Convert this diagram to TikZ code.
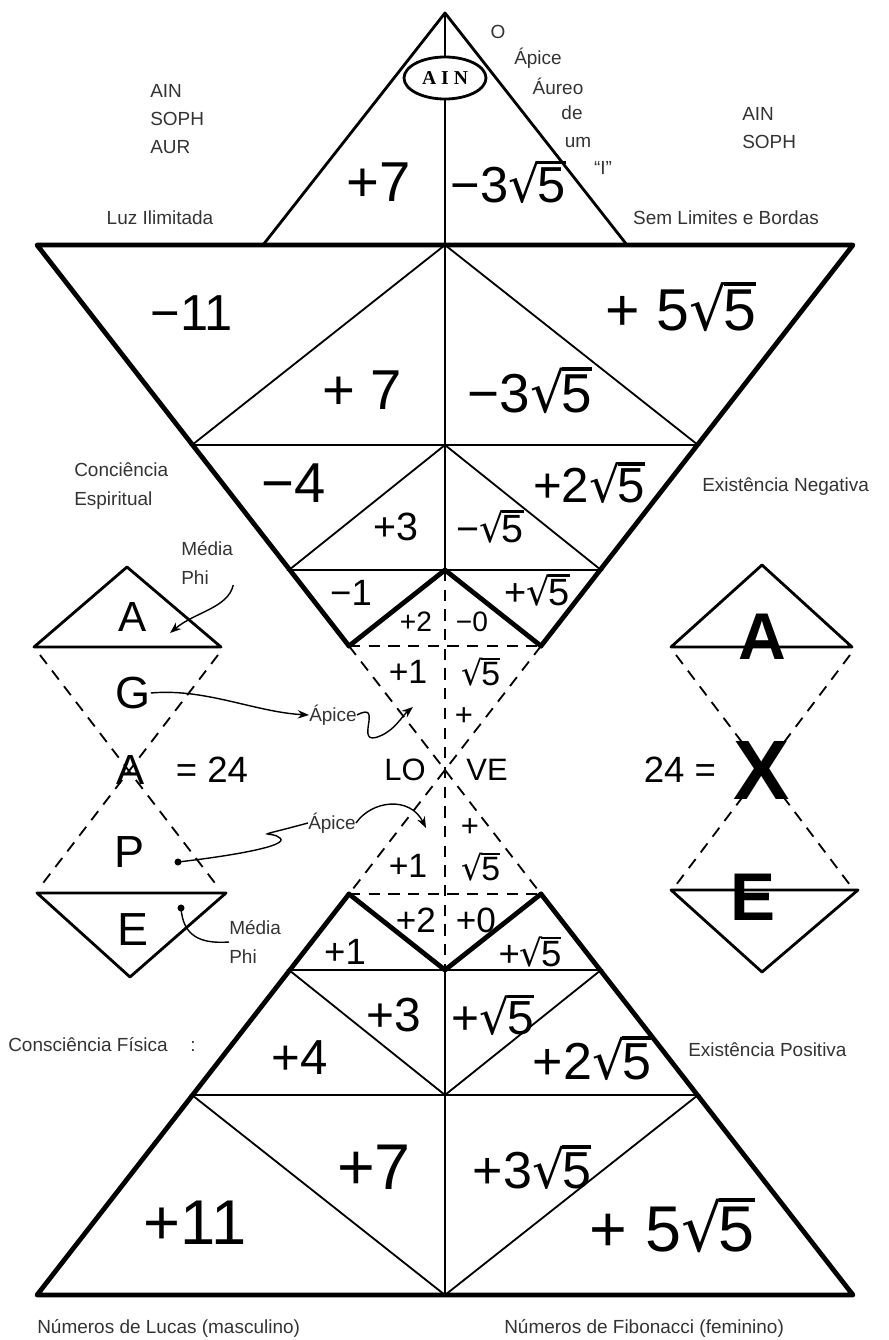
\documentclass[tikz,border=0pt]{standalone}
\usepackage{fontspec}
\setmainfont{Liberation Sans}
\newfontfamily\ainfont{Liberation Serif}
\newfontfamily\rootfont{DejaVu Sans}
\usetikzlibrary{arrows.meta,shapes.geometric}
\newcommand{\raiz}[1]{{\rootfont √}\kern-.06em\vbox{\hrule height .07em\kern .07em\hbox{#1}}}

\begin{document}
\begin{tikzpicture}[x=0.025cm,y=-0.025cm,
  thickln/.style={line width=3.4pt,line cap=round,line join=round},
  midln/.style={line width=2pt,line join=round},
  thinln/.style={line width=1.3pt},
  dashln/.style={line width=1.3pt,dash pattern=on 8pt off 6pt},
  num/.style={font=\fontsize{#1}{#1}\selectfont,inner sep=0pt},
  bnum/.style={font=\bfseries\fontsize{#1}{#1}\selectfont,inner sep=0pt},
  lbl/.style={font=\fontsize{13.5}{20}\selectfont,text=black!80,align=left,inner sep=0pt},
  hand/.style={-{Stealth[length=8pt,width=6pt]},line width=1pt},
  handln/.style={line width=1pt},
]
\useasboundingbox (0,0) rectangle (888,1340);

% levels of the two big triangles (apex of both at the centre)
\foreach \n/\x/\y in {0/37/245,1/192/445,2/289/570,3/349/646}{
  \coordinate (l\n) at (\x,\y);
  \coordinate (r\n) at (890-\x,\y);
  \coordinate (c\n) at (445,\y);
  \coordinate (bl\n) at (\x,1540-\y);
  \coordinate (br\n) at (890-\x,1540-\y);
  \coordinate (bc\n) at (445,1540-\y);
}
\coordinate (ta) at (445,13);
\coordinate (tl) at (263,245);
\coordinate (tr) at (627,245);

% top triangle
\node[draw,ellipse,midln,minimum width=2.05cm,minimum height=1.05cm,inner sep=0pt,
  font=\ainfont\bfseries\fontsize{14}{14}\selectfont] (ain) at (445,78) {A I N};
\draw[midln] (tl) -- (ta) -- (tr);
\draw[thinln] (ta) -- (ain.north) (ain.south) -- (c0);

% upper body
\draw[thickln] (l3) -- (l0) -- (r0) -- (r3);
\draw[thickln] (l3) -- (c2) -- (r3);
\draw[thinln] (l1) -- (c0) -- (r1) -- cycle;
\draw[thinln] (l2) -- (c1) -- (r2) -- cycle;
\draw[thinln] (c0) -- (c2);

% lower body
\draw[thickln] (bl3) -- (bl0) -- (br0) -- (br3);
\draw[thickln] (bl3) -- (bc2) -- (br3);
\draw[thinln] (bl1) -- (bc0) -- (br1) -- cycle;
\draw[thinln] (bl2) -- (bc1) -- (br2) -- cycle;
\draw[thinln] (bc0) -- (bc2);

% dashed middle
\draw[dashln] (l3) -- (r3) (bl3) -- (br3);
\draw[dashln] (c2) -- (bc2);
\draw[dashln] (l3) -- (br3) (r3) -- (bl3);

% side figures
\draw[midln] (34,647) -- (127,567) -- (221,647) -- cycle;
\draw[dashln] (40,655) -- (218,887) (218,655) -- (40,887);
\draw[midln] (37,893) -- (226,893) -- (130,977) -- cycle;
\draw[midln] (671,647) -- (762,565) -- (852,647) -- cycle;
\draw[dashln] (676,655) -- (850,885) (850,655) -- (676,885);
\draw[midln] (671,890) -- (858,890) -- (762,972) -- cycle;

% numbers, upper
\node[num=40] (n1) at (379,182) {+7};
\node[num=36] (n2) at (508,182) {−3\raiz{5}};
\node[num=36] (n3) at (192,313) {−11};
\node[num=42] (n4) at (681,307) {+ 5\raiz{5}};
\node[num=40] (n5) at (362,390) {+ 7};
\node[num=39] (n6) at (530,390) {−3\raiz{5}};
\node[num=40] (n7) at (294,483) {−4};
\node[num=35] (n8) at (589,483) {+2\raiz{5}};
\node[num=28] (n9) at (396,527) {+3};
\node[num=28] (n10) at (490,527) {−\raiz{5}};
\node[num=26] (n11) at (351,593) {−1};
\node[num=27] (n12) at (537,590) {+\raiz{5}};
\node[num=20] (n13) at (416,622) {+2};
\node[num=20] (n14) at (472,622) {−0};
\node[num=24] (n15) at (408,672) {+1};
\node[num=24] (n16) at (481,672) {\raiz{5}};
\node[num=22] (n17) at (464,717) {+};
\node[num=22] (lo) at (405,770) {LO};
\node[num=22] (ve) at (487,770) {VE};

% numbers, lower
\node[num=22] (m17) at (470,828) {+};
\node[num=24] (m15) at (408,866) {+1};
\node[num=24] (m16) at (481,867) {\raiz{5}};
\node[num=25] (m13) at (416,920) {+2};
\node[num=25] (m14) at (476,920) {+0};
\node[num=26] (m11) at (345,952) {+1};
\node[num=26] (m12) at (530,952) {+\raiz{5}};
\node[num=34] (m9) at (394,1015) {+3};
\node[num=34] (m10) at (493,1015) {+\raiz{5}};
\node[num=35] (m7) at (300,1058) {+4};
\node[num=37] (m8) at (592,1058) {+2\raiz{5}};
\node[num=46] (m5) at (374,1167) {+7};
\node[num=37] (m6) at (532,1167) {+3\raiz{5}};
\node[num=45] (m3) at (195,1223) {+11};
\node[num=46] (m4) at (672,1225) {+ 5\raiz{5}};

% AGAPE and AXE
\node[num=30] (a1) at (133,617) {A};
\node[num=32] (g) at (133,693) {G};
\node[num=30] (a2) at (131,770) {A};
\node[num=26] (eq1) at (212,770) {= 24};
\node[num=32] (p) at (130,852) {P};
\node[num=33] (e1) at (133,930) {E};
\node[bnum=47] (a3) at (762,637) {A};
\node[bnum=60] (x) at (762,770) {X};
\node[num=26] (eq2) at (680,770) {24 =};
\node[bnum=48] (e2) at (753,897) {E};

% labels
\node[lbl] (o) at (498,32) {O};
\node[lbl] (ap) at (538,58) {Ápice};
\node[lbl] (au) at (558,86) {Áureo};
\node[lbl] (de) at (572,113) {de};
\node[lbl] (um) at (578,142) {um};
\node[lbl] (eu) at (603,168) {“I”};
\node[lbl,anchor=west] (aur) at (150,119) {AIN\\SOPH\\AUR};
\node[lbl,anchor=west] (soph) at (742,128) {AIN\\SOPH};
\node[lbl] (luz) at (160,218) {Luz Ilimitada};
\node[lbl] (sem) at (726,218) {Sem Limites e Bordas};
\node[lbl,anchor=west] (esp) at (74,486) {Conciência\\Espiritual};
\node[lbl,anchor=west] (neg) at (702,487) {Existência Negativa};
\node[lbl,anchor=west,font=\fontsize{13.5}{21}\selectfont] (phitop) at (181,563) {Média\\Phi};
\node[lbl,anchor=west,font=\fontsize{13.5}{21}\selectfont] (phibot) at (229,942) {Média\\Phi};
\node[lbl] (apice1) at (333,715) {Ápice};
\node[lbl] (apice2) at (332,823) {Ápice};
\node[lbl,anchor=west] (fis) at (8,1045) {Consciência Física\hspace{1.2em}:};
\node[lbl,anchor=west] (pos) at (688,1050) {Existência Positiva};
\node[lbl,anchor=west] (lucas) at (37,1328) {Números de Lucas (masculino)};
\node[lbl,anchor=west] (fib) at (504,1328) {Números de Fibonacci (feminino)};

% hand arrows
\coordinate (phitopend) at (170,633);
\coordinate (apex1) at (413,707);
\coordinate (apex2) at (426,828);
\coordinate (pdot) at (178,862);
\coordinate (edot) at (181,908);
\draw[hand] (phitop.south east) .. controls (228,608) and (195,612) .. (phitopend);
\draw[hand] (g.east) .. controls (205,688) and (255,712) .. (apice1.west);
\draw[hand] (apice1.east) .. controls (385,700) and (352,748) .. (380,736)
  .. controls (395,730) and (402,716) .. (apex1);
\fill (pdot) circle[radius=2.5pt];
\draw[handln] (pdot) .. controls (230,856) and (290,846) .. (280,838)
  .. controls (272,830) and (245,840) .. (apice2.west);
\draw[hand] (apice2.east) .. controls (372,800) and (410,796) .. (apex2);
\fill (edot) circle[radius=2.5pt];
\draw[handln] (edot) .. controls (183,936) and (200,944) .. (phibot.west);
\end{tikzpicture}
\end{document}
